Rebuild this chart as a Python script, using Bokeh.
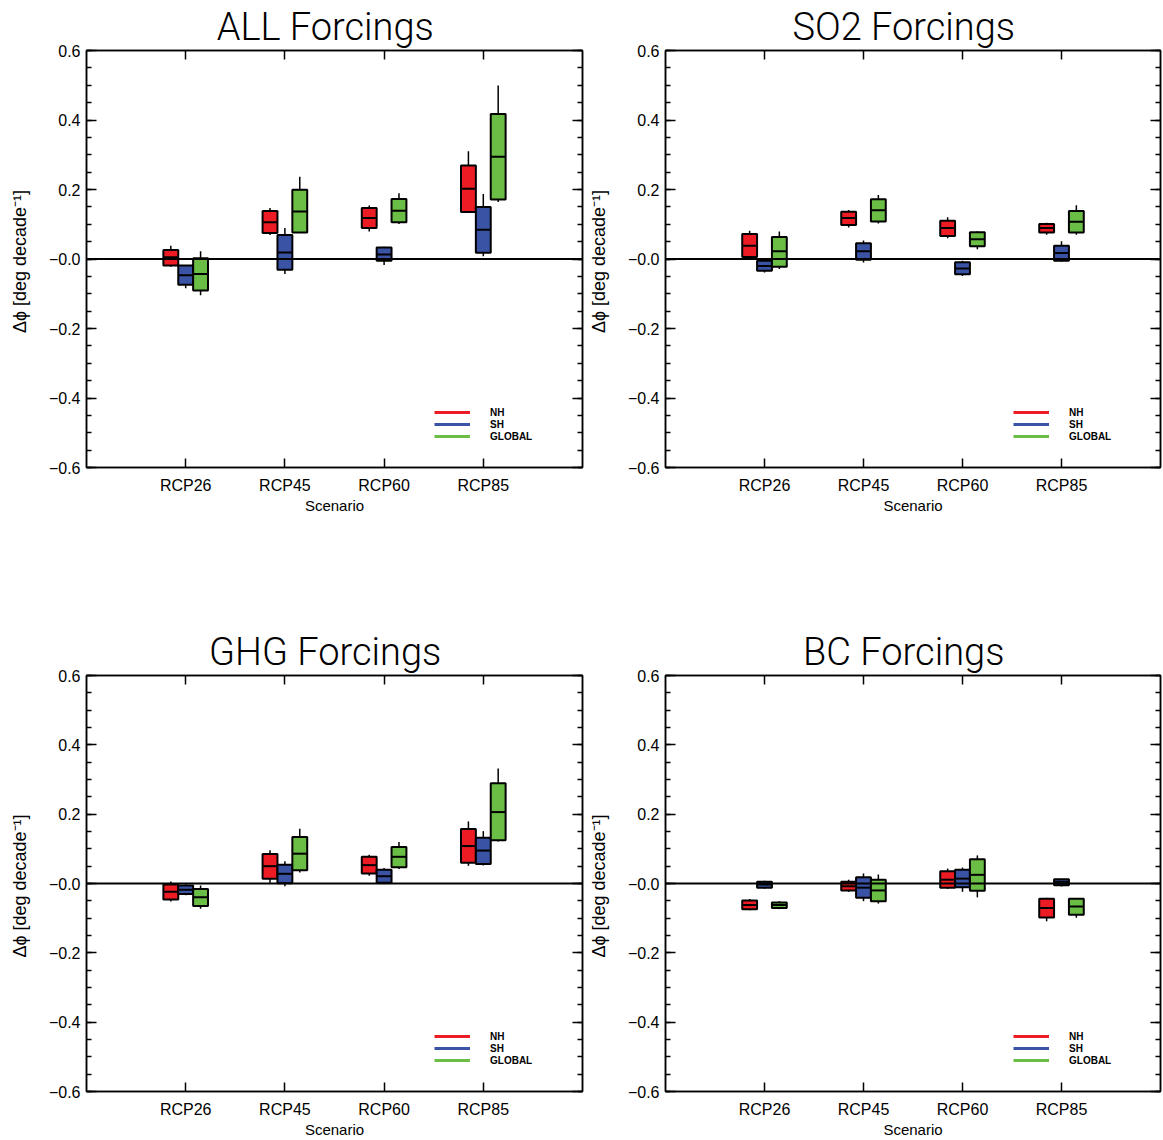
from bokeh.plotting import figure
from bokeh.layouts import column, row
from bokeh.models import (FixedTicker, LinearAxis, Range1d, Legend, LegendItem,
                          Span, CustomJSTickFormatter, CustomLabelingPolicy)
from bokeh.embed import file_html
from bokeh.resources import INLINE

scenarios = ["RCP26", "RCP45", "RCP60", "RCP85"]
regions = ["NH", "SH", "GLOBAL"]
region_colors = ["#ED1C24", "#3A53A4", "#6ABD45"]

# Trend statistics per scenario: whisker low, lower quartile, median,
# upper quartile, whisker high  (deg per decade)
all_nh = {"lo": [-0.022, 0.069, 0.079, 0.133], "q1": [-0.019, 0.075, 0.089, 0.135],
          "med": [0.005, 0.106, 0.118, 0.202], "q3": [0.026, 0.138, 0.147, 0.269],
          "hi": [0.038, 0.147, 0.154, 0.310]}
all_sh = {"lo": [-0.084, -0.043, -0.017, 0.008], "q1": [-0.074, -0.031, -0.005, 0.018],
          "med": [-0.047, 0.019, 0.013, 0.084], "q3": [-0.019, 0.069, 0.033, 0.150],
          "hi": [-0.017, 0.089, 0.035, 0.187]}
all_gl = {"lo": [-0.104, 0.075, 0.101, 0.164], "q1": [-0.091, 0.076, 0.106, 0.171],
          "med": [-0.043, 0.137, 0.139, 0.294], "q3": [0.002, 0.199, 0.173, 0.417],
          "hi": [0.022, 0.237, 0.189, 0.499]}

so2_nh = {"lo": [-0.002, 0.091, 0.060, 0.070], "q1": [0.006, 0.098, 0.066, 0.076],
          "med": [0.038, 0.118, 0.089, 0.089], "q3": [0.072, 0.136, 0.110, 0.101],
          "hi": [0.081, 0.141, 0.120, 0.104]}
so2_sh = {"lo": [-0.039, -0.010, -0.049, -0.007], "q1": [-0.034, -0.002, -0.044, -0.005],
          "med": [-0.020, 0.022, -0.027, 0.017], "q3": [-0.005, 0.045, -0.009, 0.038],
          "hi": [-0.003, 0.053, -0.005, 0.051]}
so2_gl = {"lo": [-0.029, 0.102, 0.028, 0.070], "q1": [-0.022, 0.108, 0.037, 0.076],
          "med": [0.022, 0.140, 0.057, 0.107], "q3": [0.063, 0.172, 0.077, 0.138],
          "hi": [0.079, 0.184, 0.080, 0.155]}

ghg_nh = {"lo": [-0.052, 0.002, 0.022, 0.051], "q1": [-0.046, 0.014, 0.029, 0.060],
          "med": [-0.024, 0.050, 0.053, 0.108], "q3": [-0.003, 0.085, 0.077, 0.157],
          "hi": [0.006, 0.096, 0.083, 0.179]}
ghg_sh = {"lo": [-0.034, -0.008, -0.002, 0.052], "q1": [-0.030, 0.001, 0.002, 0.056],
          "med": [-0.018, 0.028, 0.021, 0.095], "q3": [-0.006, 0.054, 0.040, 0.132],
          "hi": [-0.002, 0.064, 0.045, 0.151]}
ghg_gl = {"lo": [-0.073, 0.032, 0.042, 0.121], "q1": [-0.065, 0.038, 0.047, 0.125],
          "med": [-0.040, 0.086, 0.077, 0.206], "q3": [-0.016, 0.134, 0.105, 0.289],
          "hi": [-0.006, 0.158, 0.120, 0.332]}

bc_nh = {"lo": [-0.077, -0.024, -0.016, -0.109], "q1": [-0.074, -0.020, -0.012, -0.098],
         "med": [-0.062, -0.008, 0.011, -0.071], "q3": [-0.049, 0.005, 0.035, -0.044],
         "hi": [-0.045, 0.011, 0.043, -0.041]}
bc_sh = {"lo": [-0.015, -0.051, -0.024, -0.009], "q1": [-0.012, -0.041, -0.011, -0.005],
         "med": [-0.003, -0.012, 0.014, 0.005], "q3": [0.005, 0.018, 0.040, 0.012],
         "hi": [0.008, 0.029, 0.046, 0.014]}
bc_gl = {"lo": [-0.074, -0.058, -0.040, -0.099], "q1": [-0.071, -0.051, -0.021, -0.090],
         "med": [-0.062, -0.020, 0.025, -0.066], "q3": [-0.055, 0.011, 0.070, -0.044],
         "hi": [-0.051, 0.026, 0.081, -0.043]}

y_ticks = [-0.6, -0.4, -0.2, 0.0, 0.2, 0.4, 0.6]
y_minor = [round(-0.6 + 0.05 * i, 2) for i in range(25)]
x_ticks = [1, 2, 3, 4]

BOX_W = 0.15
OFFSETS = [-0.15, 0.0, 0.15]
FRAME_W, FRAME_H = 496, 417
TICK_FONT = "Liberation Sans"
TITLE_FONT = "'Roboto Light', 'Lato Light', 'DejaVu Sans'"
TITLE_PAD = "\u00a0\u00a0"   # nudges the centred heading slightly left

# mirrored axes carry tick marks only
NO_LABELS = CustomLabelingPolicy(code="""
    for (const i of Array.from(indices)) indices.unset(i);
    return indices;
""")


def style_axis(ax, size="16px"):
    ax.axis_line_color = "black"
    ax.axis_line_width = 1.5
    ax.major_tick_line_color = "black"
    ax.minor_tick_line_color = "black"
    ax.major_tick_line_width = 1.5
    ax.minor_tick_line_width = 1.5
    ax.major_tick_out = 0
    ax.minor_tick_out = 0
    ax.major_label_text_font = TICK_FONT
    ax.major_label_text_font_size = size
    ax.major_label_text_color = "black"
    ax.axis_label_text_color = "black"


def panel(title, stats, b_left, b_right, b_top, b_bottom):
    p = figure(width=b_left + FRAME_W + b_right, height=b_top + FRAME_H + b_bottom,
               x_range=Range1d(0, 5), y_range=Range1d(-0.6, 0.6),
               output_backend="svg", toolbar_location=None,
               min_border_left=b_left, min_border_right=b_right,
               min_border_top=b_top, min_border_bottom=b_bottom)
    p.grid.visible = False
    p.outline_line_color = "black"
    p.outline_line_width = 1.5
    p.background_fill_color = "white"
    p.border_fill_color = "white"

    p.title.text = title + TITLE_PAD
    p.title.text_font = TITLE_FONT
    p.title.text_font_size = "38px"
    p.title.text_font_style = "normal"
    p.title.align = "center"
    p.title.standoff = 3
    p.title.text_color = "black"

    x_names = CustomJSTickFormatter(args=dict(names=scenarios), code="""
        return names[Math.round(tick) - 1];
    """)
    y_fmt = CustomJSTickFormatter(code="""
        if (Math.abs(tick) < 1e-9) return "\u22120.0";
        return tick < 0 ? "\u2212" + Math.abs(tick).toFixed(1) : tick.toFixed(1);
    """)

    xb = p.xaxis[0]
    xb.ticker = FixedTicker(ticks=x_ticks, minor_ticks=[])
    xb.formatter = x_names
    xb.axis_label = "Scenario"
    xb.axis_label_text_font = TICK_FONT
    xb.axis_label_text_font_size = "15px"
    xb.axis_label_text_font_style = "normal"
    style_axis(xb)
    xb.axis_label_standoff = 0
    xb.major_tick_in = 9
    xb.major_label_standoff = 9

    yl = p.yaxis[0]
    yl.ticker = FixedTicker(ticks=y_ticks, minor_ticks=y_minor)
    yl.formatter = y_fmt
    yl.axis_label = "\u0394\u03d5 [deg  decade\u207b\u00b9]"
    yl.axis_label_text_font = TICK_FONT
    yl.axis_label_text_font_size = "18px"
    yl.axis_label_text_font_style = "normal"
    style_axis(yl)
    yl.axis_label_standoff = 16
    yl.major_tick_in = 10
    yl.minor_tick_in = 5
    yl.major_label_standoff = 6

    yr = LinearAxis(ticker=FixedTicker(ticks=y_ticks, minor_ticks=y_minor),
                    major_label_policy=NO_LABELS)
    style_axis(yr, size="0px")
    yr.major_tick_in = 10
    yr.minor_tick_in = 5
    yr.major_label_standoff = 0
    p.add_layout(yr, "right")

    xt = LinearAxis(ticker=FixedTicker(ticks=x_ticks, minor_ticks=[]),
                    major_label_policy=NO_LABELS)
    style_axis(xt, size="0px")
    xt.major_tick_in = 9
    xt.major_label_standoff = 0
    p.add_layout(xt, "above")

    p.add_layout(Span(location=0, dimension="width", line_color="black", line_width=2))

    items = []
    for k, (reg, col) in enumerate(zip(regions, region_colors)):
        s = stats[k]
        xs = [i + 1 + OFFSETS[k] for i in range(len(scenarios))]
        p.segment(x0=xs, y0=s["q3"], x1=xs, y1=s["hi"], line_color="black", line_width=1.5)
        p.segment(x0=xs, y0=s["q1"], x1=xs, y1=s["lo"], line_color="black", line_width=1.5)
        p.vbar(x=xs, width=BOX_W, bottom=s["q1"], top=s["q3"], fill_color=col,
               line_color="black", line_width=2)
        p.segment(x0=[x - BOX_W / 2 for x in xs], y0=s["med"],
                  x1=[x + BOX_W / 2 for x in xs], y1=s["med"],
                  line_color="black", line_width=2)
        key = p.line(x=[float("nan")], y=[float("nan")], line_color=col, line_width=3)
        items.append(LegendItem(label=reg, renderers=[key]))

    leg = Legend(items=items, location=(348, 25), glyph_width=36, glyph_height=12,
                 label_height=12, label_standoff=20, spacing=0, padding=0, margin=0,
                 border_line_alpha=0, background_fill_alpha=0,
                 label_text_font=TICK_FONT, label_text_font_size="10px",
                 label_text_font_style="bold", label_text_color="black")
    p.add_layout(leg)
    return p


p1 = panel("ALL Forcings", [all_nh, all_sh, all_gl], 86, 3, 50, 158)
p2 = panel("SO2 Forcings", [so2_nh, so2_sh, so2_gl], 79, 3, 50, 158)
p3 = panel("GHG Forcings", [ghg_nh, ghg_sh, ghg_gl], 86, 3, 50, 48)
p4 = panel("BC Forcings", [bc_nh, bc_sh, bc_gl], 79, 3, 50, 48)

layout = column(row(p1, p2), row(p3, p4))
open("out.html", "w").write(file_html(layout, INLINE))
